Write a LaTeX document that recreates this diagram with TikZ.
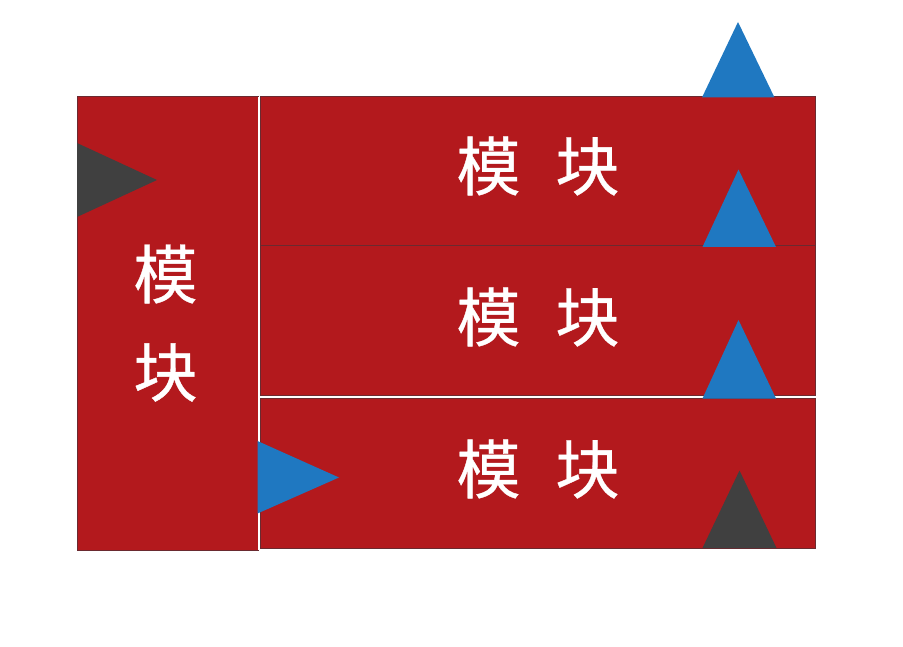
\documentclass[tikz,border=0pt]{standalone}
\usepackage{fontspec}
\newfontfamily\cjk[FakeBold=0.6]{Noto Sans CJK SC}
\definecolor{boxred}{HTML}{B3191D}
\definecolor{boxedge}{HTML}{6A2A30}
\definecolor{triblue}{HTML}{1F78C1}
\definecolor{tridark}{HTML}{404040}
\tikzset{
  modbox/.style={fill=boxred, draw=boxedge, line width=1pt},
  modtext/.style={text=white, font=\cjk\fontsize{64}{64}\selectfont, inner sep=0pt},
  blueTri/.style={fill=triblue, draw=none},
  darkTri/.style={fill=tridark, draw=none}
}
\begin{document}
\begin{tikzpicture}[x=1pt,y=-1pt]
\useasboundingbox[fill=white] (0,0) rectangle (903,647);
% boxes
\draw[modbox] (77,97) rectangle (258,550);
\draw[modbox] (260,96.5) rectangle (815,245.5);
\draw[modbox] (260,245.5) rectangle (815,395);
\draw[white, line width=1.5pt] (260,396.5) -- (815,396.5);
\draw[modbox] (260,398) rectangle (815,548);
\draw[white, line width=1.5pt] (259,97) -- (259,550);
% triangles
\fill[darkTri] (77,143) -- (157,180) -- (77,217) -- cycle;
\fill[blueTri] (257.5,441) -- (339,477.5) -- (257.5,513.5) -- cycle;
\fill[blueTri] (702,97.5) -- (738,22) -- (774.5,97.5) -- cycle;
\fill[blueTri] (702.5,247) -- (738.5,169.5) -- (776,247) -- cycle;
\fill[blueTri] (702.5,398.5) -- (738.5,320) -- (776,398.5) -- cycle;
\fill[darkTri] (702.5,548) -- (739.5,470.5) -- (776.5,548) -- cycle;
% texts
\node[modtext] (tT) at (538,166) {模\hspace{35pt}块};
\node[modtext] (tM) at (538,317) {模\hspace{35pt}块};
\node[modtext] (tB) at (538,469) {模\hspace{35pt}块};
\node[modtext] (tL1) at (165.5,274) {模};
\node[modtext] (tL2) at (165.5,372.5) {块};
\end{tikzpicture}
\end{document}
